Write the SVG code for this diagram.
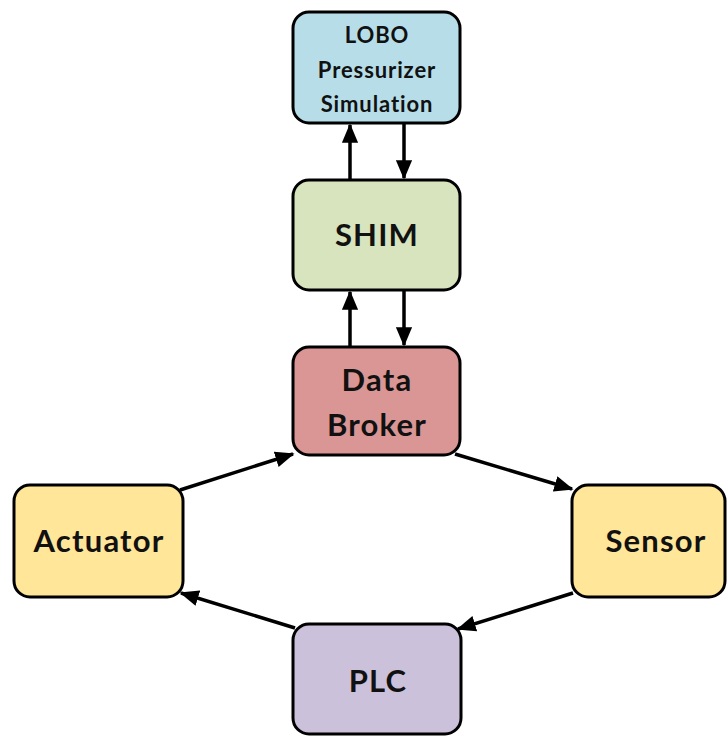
<svg xmlns="http://www.w3.org/2000/svg" width="727" height="736" viewBox="0 0 727 736">
<style>
.box{stroke:#000;stroke-width:3}
.t{font-family:Lato,"Open Sans",sans-serif;font-weight:bold;fill:#111;text-anchor:middle}
.big{font-size:31px;letter-spacing:1.2px}
.small{font-size:22px;letter-spacing:0.9px}
.c{stroke:#000;stroke-width:3.5;fill:none}
</style>
<defs>
<marker id="ah" viewBox="0 0 12 10" refX="11" refY="5" markerWidth="5.5" markerHeight="4.6" markerUnits="strokeWidth" orient="auto">
<path d="M0,0 L12,5 L0,10 z" fill="#000"/>
</marker>
</defs>
<rect width="727" height="736" fill="#fff"/>
<g id="connectors">
<line class="c" x1="350" y1="180" x2="350" y2="125" marker-end="url(#ah)"/>
<line class="c" x1="404" y1="123" x2="404" y2="178" marker-end="url(#ah)"/>
<line class="c" x1="350" y1="347" x2="350" y2="292" marker-end="url(#ah)"/>
<line class="c" x1="404" y1="290" x2="404" y2="345" marker-end="url(#ah)"/>
<line class="c" x1="180" y1="490" x2="293" y2="454" marker-end="url(#ah)"/>
<line class="c" x1="455" y1="454" x2="572" y2="489" marker-end="url(#ah)"/>
<line class="c" x1="573" y1="593" x2="458" y2="629" marker-end="url(#ah)"/>
<line class="c" x1="295" y1="628" x2="181" y2="593" marker-end="url(#ah)"/>
</g>
<g id="lobo">
<rect class="box" x="293" y="12" width="167" height="111" rx="16" fill="#b7dee8"/>
<text class="t small" x="377" y="43">LOBO</text>
<text class="t small" x="377" y="78">Pressurizer</text>
<text class="t small" x="377" y="112">Simulation</text>
</g>
<g id="shim">
<rect class="box" x="293" y="180" width="167" height="110" rx="16" fill="#d7e4bd"/>
<text class="t big" x="377" y="246">SHIM</text>
</g>
<g id="broker">
<rect class="box" x="293" y="347" width="167" height="108" rx="16" fill="#d99694"/>
<text class="t big" x="377" y="391">Data</text>
<text class="t big" x="377" y="436">Broker</text>
</g>
<g id="actuator">
<rect class="box" x="14" y="485" width="169" height="112" rx="16" fill="#ffe699"/>
<text class="t big" x="99" y="552">Actuator</text>
</g>
<g id="sensor">
<rect class="box" x="572" y="485" width="153" height="112" rx="16" fill="#ffe699"/>
<text class="t big" x="656" y="552">Sensor</text>
</g>
<g id="plc">
<rect class="box" x="293" y="624" width="168" height="110" rx="16" fill="#ccc1da"/>
<text class="t big" x="378" y="692">PLC</text>
</g>
</svg>
